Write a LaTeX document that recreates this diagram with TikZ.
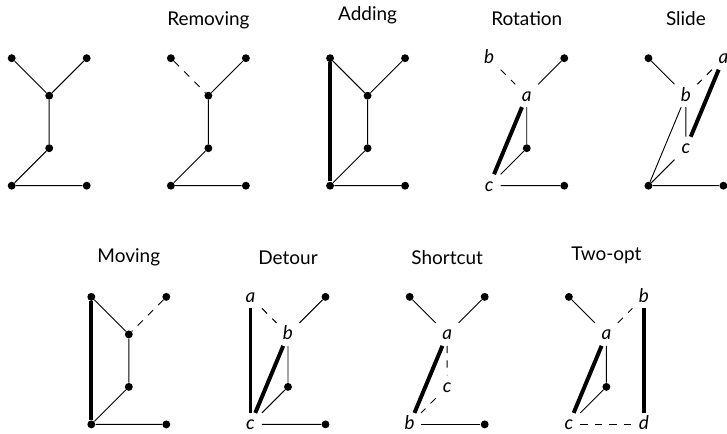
\documentclass[tikz,border=0pt]{standalone}
\usepackage{fontspec}
\setmainfont{Lato}
\newcommand{\treevertex}[3]{% name, position, label (empty: a dot)
  \if\relax\detokenize{#3}\relax
    \node[dot] (#1) at #2 {};%
  \else
    \node[lab] (#1) at #2 {#3};%
  \fi}
\newcommand{\treenodes}[6]{%
  \treevertex{tl}{(0,3.4)}{#1}\treevertex{tr}{(2,3.4)}{#2}%
  \treevertex{c}{(1,2.4)}{#3}\treevertex{m}{(1,1)}{#4}%
  \treevertex{bl}{(0,0)}{#5}\treevertex{br}{(2,0)}{#6}}

\begin{document}
\begin{tikzpicture}[font=\fontsize{14.4}{17}\selectfont,
    dot/.style={circle, fill, inner sep=0pt, minimum size=6pt},
    lab/.style={inner sep=0pt, minimum width=17pt, minimum height=17pt,
                text height=8.5pt, text depth=0pt, font=\fontsize{14.4}{17}\selectfont\itshape},
    edge/.style={line width=0.7pt},
    gone/.style={line width=0.7pt, dash pattern=on 5.5pt off 5.5pt},
    new/.style={line width=3pt},
    title/.style={anchor=base}]
  \useasboundingbox (0,0) rectangle (19.387,11.547);

  % top row
  \begin{scope}[shift={(0.312,6.595)}, name prefix=tree-]
    \treenodes{}{}{}{}{}{}
    \draw[edge] (tl) -- (c) -- (tr);
    \draw[edge] (c) -- (m) -- (bl) -- (br);
  \end{scope}
  \begin{scope}[shift={(4.557,6.595)}, name prefix=rem-]
    \treenodes{}{}{}{}{}{}
    \node[title] (name) at (1,4.27) {Removing};
    \draw[gone] (tl) -- (c);
    \draw[edge] (tr) -- (c) -- (m) -- (bl) -- (br);
  \end{scope}
  \begin{scope}[shift={(8.802,6.595)}, name prefix=add-]
    \treenodes{}{}{}{}{}{}
    \node[title] (name) at (1,4.41) {Adding};
    \draw[edge] (tl) -- (c) -- (tr);
    \draw[edge] (c) -- (m) -- (bl) -- (br);
    \draw[new] (tl) -- (bl);
  \end{scope}
  \begin{scope}[shift={(13.047,6.595)}, name prefix=rot-]
    \treenodes{b}{}{a}{}{c}{}
    \node[title] (name) at (1,4.27) {Rotation};
    \draw[gone] (tl) -- (c);
    \draw[edge] (tr) -- (c) -- (m) -- (bl) -- (br);
    \draw[new] (c) -- (bl);
  \end{scope}
  \begin{scope}[shift={(17.292,6.595)}, name prefix=sli-]
    \treenodes{}{a}{b}{c}{}{}
    \node[title] (name) at (1,4.27) {Slide};
    \draw[edge] (tl) -- (c) -- (m) -- (bl) -- (br);
    \draw[edge] (bl) -- (c);
    \draw[gone] (tr) -- (c);
    \draw[new] (tr) -- (m);
  \end{scope}

  % bottom row
  \begin{scope}[shift={(2.435,0.23)}, name prefix=mov-]
    \treenodes{}{}{}{}{}{}
    \node[title] (name) at (1,4.33) {Moving};
    \draw[edge] (tl) -- (c) -- (m) -- (bl) -- (br);
    \draw[gone] (tr) -- (c);
    \draw[new] (tl) -- (bl);
  \end{scope}
  \begin{scope}[shift={(6.68,0.23)}, name prefix=det-]
    \treenodes{a}{}{b}{}{c}{}
    \node[title] (name) at (1,4.27) {Detour};
    \draw[gone] (tl) -- (c);
    \draw[edge] (tr) -- (c) -- (m) -- (bl) -- (br);
    \draw[new] (tl) -- (bl);
    \draw[new] (c) -- (bl);
  \end{scope}
  \begin{scope}[shift={(10.925,0.23)}, name prefix=sho-]
    \treenodes{}{}{a}{c}{b}{}
    \node[title] (name) at (1,4.27) {Shortcut};
    \draw[edge] (tl) -- (c) -- (tr);
    \draw[gone] (c) -- (m) -- (bl);
    \draw[edge] (bl) -- (br);
    \draw[new] (c) -- (bl);
  \end{scope}
  \begin{scope}[shift={(15.17,0.23)}, name prefix=two-]
    \treenodes{}{b}{a}{}{c}{d}
    \node[title] (name) at (1,4.36) {Two-opt};
    \draw[edge] (tl) -- (c) -- (m) -- (bl);
    \draw[gone] (c) -- (tr);
    \draw[gone] (bl) -- (br);
    \draw[new] (c) -- (bl);
    \draw[new] (tr) -- (br);
  \end{scope}
\end{tikzpicture}
\end{document}
